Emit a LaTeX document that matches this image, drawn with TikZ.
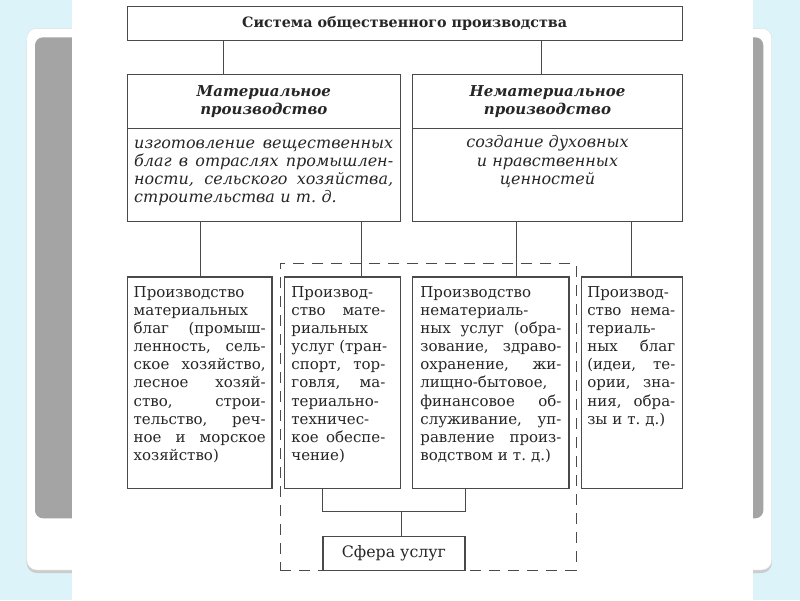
\documentclass[tikz,border=0pt]{standalone}
\usepackage{fontspec}
\setmainfont{DejaVu Serif}
\usetikzlibrary{positioning}

\definecolor{skyback}{HTML}{DBF3F9}
\definecolor{panelgray}{HTML}{A4A4A4}
\definecolor{rulegray}{HTML}{4A4A4A}
\definecolor{inkgray}{HTML}{262626}

% one justified line of a box, \colw is set by the node
\newcommand{\jl}[1]{\leavevmode\hbox to \colw{\spaceskip=.3em plus 1fil\relax #1}}

\tikzset{
	frame/.style={draw=rulegray, line width=1.2pt, fill=white, inner sep=0pt, anchor=north west},
	conn/.style={draw=rulegray, line width=1.2pt},
	body/.style={inner sep=0pt, text width=#1, align=left, text=inkgray,
		font=\fontsize{15}{18.1}\selectfont, execute at begin node={\def\colw{#1}\strut}},
	desc/.style={inner sep=0pt, text=inkgray,
		font=\itshape\fontsize{16}{18.1}\selectfont, execute at begin node=\strut},
	head/.style={align=center, text=inkgray, font=\bfseries\itshape\fontsize{15}{18.5}\selectfont},
}

\begin{document}
\begin{tikzpicture}[x=1pt, y=-1pt]
	\useasboundingbox (0,0) rectangle (800,600);
	% slide behind the scan
	\fill[skyback] (0,0) rectangle (800,600);
	\fill[gray!40, rounded corners=10pt] (26.7,31.5) rectangle (771.7,573);
	\filldraw[fill=white, draw=gray!25, rounded corners=10pt] (26.7,28.3) rectangle (771.7,570);
	\fill[panelgray, rounded corners=8pt] (35,37.3) rectangle (763.3,518.3);
	\fill[white] (72,0) rectangle (753.3,600);

	\coordinate (xa) at (223.5,0);
	\coordinate (xb) at (541.8,0);
	\coordinate (yj) at (0,511.3);

	\node[draw=rulegray, line width=1pt, dash pattern=on 11pt off 8pt, inner sep=0pt,
		anchor=north west, minimum width=295.9pt, minimum height=306.5pt] (svcarea) at (279.6,263) {};

	\node[frame, minimum width=555.1pt, minimum height=34.5pt, text=inkgray,
		font=\bfseries\fontsize{14.3}{16}\selectfont] (top) at (126.5,5.7) {Система общественного производства};

	\node[frame, minimum width=273.5pt, minimum height=54.3pt, head] (matH) at (126.5,73.9) {Материальное\\производство};
	\node[frame, minimum width=269.4pt, minimum height=54.3pt, head] (nonH) at (412.2,73.9) {Нематериальное\\производство};
	\node[frame, minimum width=273.5pt, minimum height=92.6pt] (matD) at (126.5,128.2) {};
	\node[frame, minimum width=269.4pt, minimum height=92.6pt] (nonD) at (412.2,128.2) {};

	\node[desc, text width=259pt, align=left, below right=7.4pt and 7.5pt of matD.north west,
		execute at begin node={\def\colw{259pt}\strut}] (matT) {%
		\jl{изготовление вещественных}\\
		\jl{благ в отраслях промышлен-}\\
		\jl{ности, сельского хозяйства,}\\
		строительства и т.~д.};
	\node[desc, align=center, below=7.4pt of nonD.north] (nonT) {создание духовных\\и нравственных\\ценностей};

	\node[frame, minimum width=144.9pt, minimum height=211.7pt] (b1) at (126.5,276.3) {};
	\node[frame, minimum width=116.3pt, minimum height=211.7pt] (b2) at (283.7,276.3) {};
	\node[frame, minimum width=156.2pt, minimum height=211.7pt] (b3) at (412.2,276.3) {};
	\node[frame, minimum width=101pt, minimum height=211.7pt] (b4) at (580.6,276.3) {};

	\node[body=132pt, below right=8.3pt and 7pt of b1.north west] (t1) {%
		Производство\\
		материальных\\
		\jl{благ (промыш-}\\
		\jl{ленность, сель-}\\
		\jl{ское хозяйство,}\\
		\jl{лесное хозяй-}\\
		\jl{ство, строи-}\\
		\jl{тельство, реч-}\\
		\jl{ное и морское}\\
		хозяйство)};
	\node[body=94pt, below right=8.3pt and 7.5pt of b2.north west] (t2) {%
		Производ-\\
		\jl{ство мате-}\\
		риальных\\
		\jl{услуг (тран-}\\
		\jl{спорт, тор-}\\
		\jl{говля, ма-}\\
		териально-\\
		техничес-\\
		\jl{кое обеспе-}\\
		чение)};
	\node[body=141pt, below right=8.3pt and 8pt of b3.north west] (t3) {%
		Производство\\
		нематериаль-\\
		\jl{ных услуг (обра-}\\
		\jl{зование, здраво-}\\
		\jl{охранение, жи-}\\
		лищно-бытовое,\\
		\jl{финансовое об-}\\
		\jl{служивание, уп-}\\
		\jl{равление произ-}\\
		водством и т.~д.)};
	\node[body=88pt, below right=8.3pt and 6.5pt of b4.north west] (t4) {%
		Производ-\\
		\jl{ство нема-}\\
		териаль-\\
		\jl{ных благ}\\
		\jl{(идеи, те-}\\
		\jl{ории, зна-}\\
		\jl{ния, обра-}\\
		зы и т.~д.)};

	\node[frame, minimum width=141.9pt, minimum height=33.7pt, text=inkgray,
		font=\fontsize{15.8}{18}\selectfont] (sfera) at (322.4,535.8) {Сфера услуг};

	\draw[conn] (top.south -| xa) -- (matH.north -| xa);
	\draw[conn] (top.south -| xb) -- (nonH.north -| xb);
	\foreach \up/\dn/\cx in {matD/b1/200.5, matD/b2/361.2, nonD/b3/516.3, nonD/b4/631.6}{%
		\coordinate (cx) at (\cx,0);
		\draw[conn] (\up.south -| cx) -- (\dn.north -| cx);
	}
	\draw[conn] (b2.south -| sfera.west) -- (sfera.west |- yj) -- (sfera.east |- yj) -- (b3.south -| sfera.east);
	\draw[conn] (b2.south east |- yj) -- (sfera.north -| b2.south east);
\end{tikzpicture}
\end{document}
